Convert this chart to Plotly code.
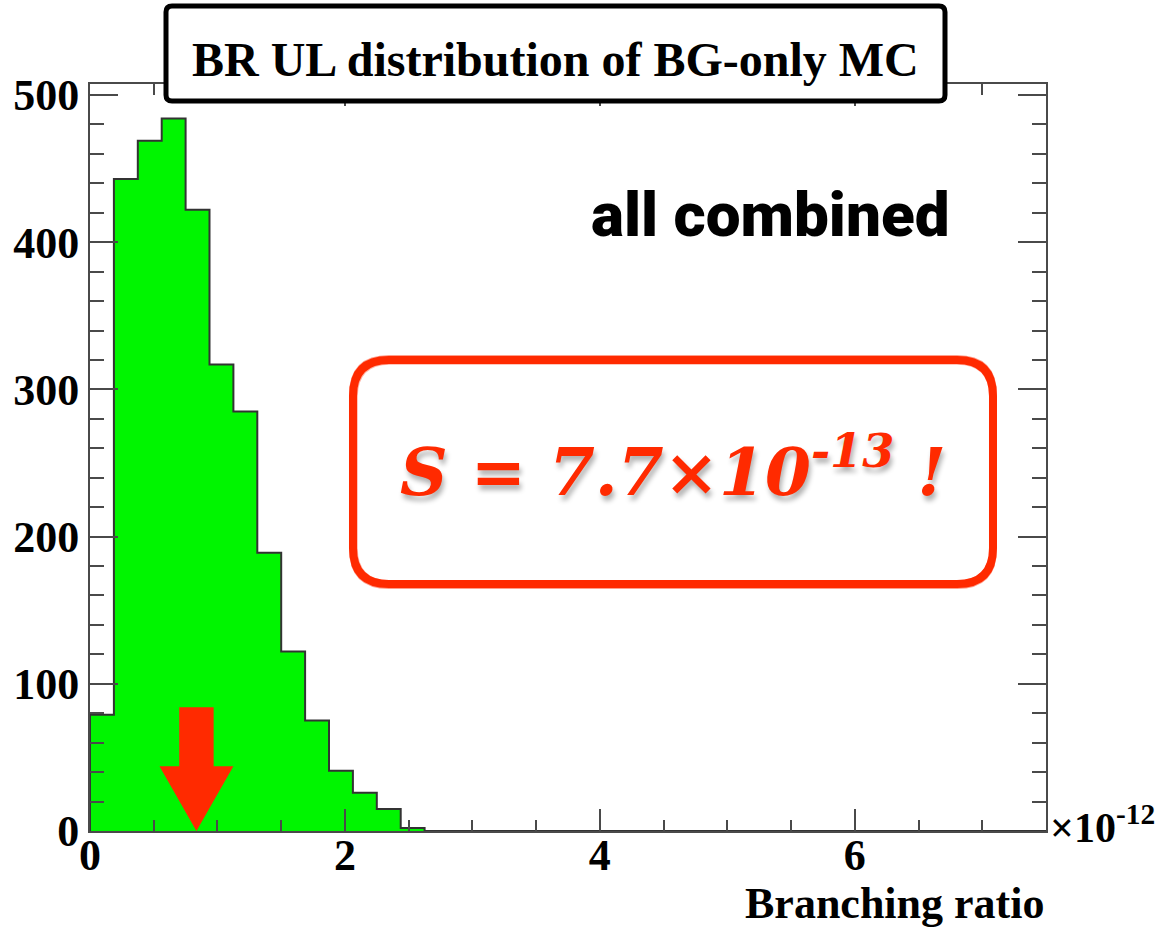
import numpy as np
import plotly.graph_objects as go

# Histogram of BR upper limits from background-only toy MC
BR_MIN, BR_MAX, N_BINS = 0.0, 7.5, 40          # in units of 1e-12
COUNTS = [79, 443, 469, 484, 422, 317, 285, 189, 122, 75, 41, 26, 15, 2]
SENSITIVITY_LABEL = "S = 7.7×10<sup>-13</sup> !"
ARROW_X = 0.835                                   # arrow marker position (1e-12)
X_TICKS = [0, 2, 4, 6]
Y_TICKS = [0, 100, 200, 300, 400, 500]
Y_MAX = 507.5

# Figure geometry (pixels)
W, H = 1165, 927
ML, MR, MT, MB = 90, 119, 84, 96
PW, PH = W - ML - MR, H - MT - MB

def px(x):
    return (x - ML) / PW

def py(y):
    return (H - MB - y) / PH

bin_w = (BR_MAX - BR_MIN) / N_BINS
counts = np.zeros(N_BINS)
counts[:len(COUNTS)] = COUNTS
edges = BR_MIN + bin_w * np.arange(N_BINS + 1)
centers = 0.5 * (edges[:-1] + edges[1:])

GREEN = "#00F500"
RED = "#FF2A00"
AXIS = "#4a4a4a"
SERIF = "Liberation Serif, Times New Roman, serif"

fig = go.Figure()

# filled bins
fig.add_trace(go.Bar(
    x=centers, y=counts, width=bin_w,
    marker=dict(color=GREEN, line=dict(width=0)),
    hoverinfo="skip", showlegend=False,
))

# step outline of the histogram
step_x = np.concatenate([[edges[0]], edges[:-1], [edges[-1]]])
step_y = np.concatenate([[0], counts, [counts[-1]]])
fig.add_trace(go.Scatter(
    x=step_x, y=step_y, mode="lines", line_shape="hv",
    line=dict(color="#333333", width=2),
    hoverinfo="skip", showlegend=False,
))

# red arrow pointing at the sensitivity
shaft_hw, head_hw = 0.135, 0.29
shaft_top, head_base = 84, 44
ax = [ARROW_X - shaft_hw, ARROW_X + shaft_hw, ARROW_X + shaft_hw, ARROW_X + head_hw,
      ARROW_X, ARROW_X - head_hw, ARROW_X - shaft_hw, ARROW_X - shaft_hw]
ay = [shaft_top, shaft_top, head_base, head_base, 0, head_base, head_base, shaft_top]
fig.add_trace(go.Scatter(
    x=ax, y=ay, mode="lines", fill="toself", fillcolor=RED,
    line=dict(color=RED, width=0), hoverinfo="skip", showlegend=False,
))


def rounded_rect(x0, y0, x1, y1, r):
    pts = [
        ("M", [(x0 + r, y0)]),
        ("L", [(x1 - r, y0)]),
        ("Q", [(x1, y0), (x1, y0 + r)]),
        ("L", [(x1, y1 - r)]),
        ("Q", [(x1, y1), (x1 - r, y1)]),
        ("L", [(x0 + r, y1)]),
        ("Q", [(x0, y1), (x0, y1 - r)]),
        ("L", [(x0, y0 + r)]),
        ("Q", [(x0, y0), (x0 + r, y0)]),
    ]
    parts = []
    for cmd, p in pts:
        parts.append(cmd + " " + " ".join(f"{px(a):.5f},{py(b):.5f}" for a, b in p))
    return " ".join(parts) + " Z"


shapes = [
    # title box
    dict(type="path", xref="paper", yref="paper",
         path=rounded_rect(166, 6, 945, 101, 6),
         fillcolor="white", line=dict(color="black", width=5), layer="above"),
    # sensitivity box (slightly sketchy multi-stroke)
    dict(type="path", xref="paper", yref="paper",
         path=rounded_rect(353, 360, 993, 584, 36),
         fillcolor="rgba(255,255,255,0)", line=dict(color=RED, width=8), layer="above"),
    dict(type="path", xref="paper", yref="paper",
         path=rounded_rect(350, 356, 996, 588, 39),
         fillcolor="rgba(255,255,255,0)", line=dict(color="rgba(255,42,0,0.45)", width=2),
         layer="above"),
    dict(type="path", xref="paper", yref="paper",
         path=rounded_rect(357, 364, 990, 581, 33),
         fillcolor="rgba(255,255,255,0)", line=dict(color="rgba(255,42,0,0.35)", width=1.5),
         layer="above"),
]

annotations = [
    dict(text="<b>BR UL distribution of BG-only MC</b>", xref="paper", yref="paper",
         x=px(555), y=py(59), xanchor="center", yanchor="middle", showarrow=False,
         font=dict(family=SERIF, size=48, color="black")),
    dict(text="all combined", xref="paper", yref="paper",
         x=px(952), y=py(214), xanchor="right", yanchor="middle", showarrow=False,
         font=dict(family="Roboto, Lato, sans-serif", size=62, color="black", weight=900)),
    dict(text="<b><i>" + SENSITIVITY_LABEL + "</i></b>", xref="paper", yref="paper",
         x=px(673), y=py(468), xanchor="center", yanchor="middle", showarrow=False,
         font=dict(family="DejaVu Serif, serif", size=66, color=RED,
                   shadow="2px 5px 5px rgba(0,0,0,0.3)")),
    dict(text="<b>×10<sup>-12</sup></b>", xref="paper", yref="paper",
         x=px(1048), y=py(824), xanchor="left", yanchor="middle", showarrow=False,
         font=dict(family=SERIF, size=42, color="black")),
    dict(text="<b>Branching ratio</b>", xref="paper", yref="paper",
         x=px(1046), y=py(903), xanchor="right", yanchor="middle", showarrow=False,
         font=dict(family=SERIF, size=44, color="black")),
]

axis_common = dict(
    showline=True, linecolor=AXIS, linewidth=2, mirror="allticks",
    ticks="inside", tickwidth=2, tickcolor=AXIS,
    showgrid=False, zeroline=False,
    tickfont=dict(family=SERIF, size=44, color="black", weight="bold"),
)

fig.update_layout(
    width=W, height=H,
    margin=dict(l=ML, r=MR, t=MT, b=MB),
    paper_bgcolor="white", plot_bgcolor="white",
    bargap=0,
    xaxis=dict(range=[BR_MIN, BR_MAX], tickvals=X_TICKS, ticklen=22,
               ticklabelstandoff=-16,
               minor=dict(dtick=0.5, tick0=0, ticks="inside", ticklen=11,
                          tickwidth=2, tickcolor=AXIS, showgrid=False),
               **axis_common),
    yaxis=dict(range=[0, Y_MAX], tickvals=Y_TICKS, ticklen=28,
               minor=dict(dtick=20, tick0=0, ticks="inside", ticklen=14,
                          tickwidth=2, tickcolor=AXIS, showgrid=False),
               **axis_common),
    shapes=shapes,
    annotations=annotations,
)

fig.write_html("out.html")
